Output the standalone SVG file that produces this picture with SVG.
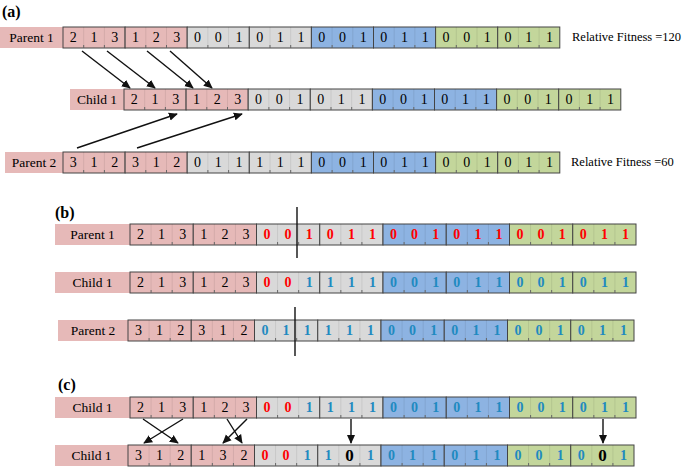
<svg xmlns="http://www.w3.org/2000/svg" xmlns:xlink="http://www.w3.org/1999/xlink" width="685" height="467" viewBox="0 0 685 467" font-family="Liberation Serif, serif">
<style>
.lbl{fill:#e6b9b8}
.p{fill:#e6b9b8;stroke:#444;stroke-width:1}
.g{fill:#d9d9d9;stroke:#444;stroke-width:1}
.u{fill:#8db3e2;stroke:#444;stroke-width:1}
.n{fill:#c3d69b;stroke:#444;stroke-width:1}
.dv{stroke:#000;stroke-opacity:.08;stroke-width:1;fill:none}
.tk{stroke:#666;stroke-width:1;fill:none}
text{font-family:"Liberation Serif","Times New Roman",serif;font-size:14px;fill:#000;text-anchor:middle}
.r{fill:#f00;font-weight:bold}
.b{fill:#1f8ac0;font-weight:bold}
.k{font-weight:bold;font-size:17px}
.lt{font-size:13.5px}
.h{font-weight:bold;font-size:16px;text-anchor:start}
.fit{text-anchor:start;font-size:12.5px}
.ar{stroke:#111;stroke-width:1.4;fill:none;marker-end:url(#ah)}
.cut{stroke:#111;stroke-width:1.4}
</style>
<defs>
<marker id="ah" viewBox="0 0 10 10" refX="9" refY="5" markerWidth="9" markerHeight="9" markerUnits="userSpaceOnUse" orient="auto">
<path d="M0,0.5 L10,5 L0,9.5 z" fill="#111"/>
</marker>
<g id="fa">
<rect class="p" x="0" y="0" width="62.1" height="21"/>
<rect class="p" x="62.1" y="0" width="62.1" height="21"/>
<rect class="g" x="124.2" y="0" width="62.1" height="21"/>
<rect class="g" x="186.3" y="0" width="62.1" height="21"/>
<rect class="u" x="248.4" y="0" width="62.1" height="21"/>
<rect class="u" x="310.5" y="0" width="62.1" height="21"/>
<rect class="n" x="372.6" y="0" width="62.1" height="21"/>
<rect class="n" x="434.7" y="0" width="62.1" height="21"/>
<path class="dv" d="M20.7,0V21M41.4,0V21M82.8,0V21M103.5,0V21M144.9,0V21M165.6,0V21M207,0V21M227.7,0V21M269.1,0V21M289.8,0V21M331.2,0V21M351.9,0V21M393.3,0V21M414,0V21M455.4,0V21M476.1,0V21"/>
<path class="tk" d="M20.7,18V21M41.4,18V21M82.8,18V21M103.5,18V21M144.9,18V21M165.6,18V21M207,18V21M227.7,18V21M269.1,18V21M289.8,18V21M331.2,18V21M351.9,18V21M393.3,18V21M414,18V21M455.4,18V21M476.1,18V21"/>
</g>
<g id="fb">
<rect class="p" x="0" y="0" width="63.25" height="21"/>
<rect class="p" x="63.25" y="0" width="63.25" height="21"/>
<rect class="g" x="126.5" y="0" width="63.25" height="21"/>
<rect class="g" x="189.75" y="0" width="63.25" height="21"/>
<rect class="u" x="253" y="0" width="63.25" height="21"/>
<rect class="u" x="316.25" y="0" width="63.25" height="21"/>
<rect class="n" x="379.5" y="0" width="63.25" height="21"/>
<rect class="n" x="442.75" y="0" width="63.25" height="21"/>
<path class="dv" d="M21.08,0V21M42.17,0V21M84.33,0V21M105.42,0V21M147.58,0V21M168.67,0V21M210.83,0V21M231.92,0V21M274.08,0V21M295.17,0V21M337.33,0V21M358.42,0V21M400.58,0V21M421.67,0V21M463.83,0V21M484.92,0V21"/>
<path class="tk" d="M21.08,18V21M42.17,18V21M84.33,18V21M105.42,18V21M147.58,18V21M168.67,18V21M210.83,18V21M231.92,18V21M274.08,18V21M295.17,18V21M337.33,18V21M358.42,18V21M400.58,18V21M421.67,18V21M463.83,18V21M484.92,18V21"/>
</g>
</defs>

<text class="h" x="2" y="17">(a)</text>
<text class="h" x="55" y="218">(b)</text>
<text class="h" x="58" y="390">(c)</text>

<g id="a-parent1" transform="translate(63,27)">
<rect class="lbl" x="-63" y="0" width="63" height="21"/>
<text class="lt" x="-31.5" y="15">Parent 1</text>
<use xlink:href="#fa"/>
<text x="10.35" y="15">2</text><text x="31.05" y="15">1</text><text x="51.75" y="15">3</text>
<text x="72.45" y="15">1</text><text x="93.15" y="15">2</text><text x="113.85" y="15">3</text>
<text x="134.55" y="15">0</text><text x="155.25" y="15">0</text><text x="175.95" y="15">1</text>
<text x="196.65" y="15">0</text><text x="217.35" y="15">1</text><text x="238.05" y="15">1</text>
<text x="258.75" y="15">0</text><text x="279.45" y="15">0</text><text x="300.15" y="15">1</text>
<text x="320.85" y="15">0</text><text x="341.55" y="15">1</text><text x="362.25" y="15">1</text>
<text x="382.95" y="15">0</text><text x="403.65" y="15">0</text><text x="424.35" y="15">1</text>
<text x="445.05" y="15">0</text><text x="465.75" y="15">1</text><text x="486.45" y="15">1</text>
</g>
<text class="fit" x="572" y="41">Relative Fitness =120</text>

<g id="a-child1" transform="translate(124,89)">
<rect class="lbl" x="-54" y="0" width="54" height="21"/>
<text class="lt" x="-27" y="15">Child 1</text>
<use xlink:href="#fa"/>
<text x="10.35" y="15">2</text><text x="31.05" y="15">1</text><text x="51.75" y="15">3</text>
<text x="72.45" y="15">1</text><text x="93.15" y="15">2</text><text x="113.85" y="15">3</text>
<text x="134.55" y="15">0</text><text x="155.25" y="15">0</text><text x="175.95" y="15">1</text>
<text x="196.65" y="15">0</text><text x="217.35" y="15">1</text><text x="238.05" y="15">1</text>
<text x="258.75" y="15">0</text><text x="279.45" y="15">0</text><text x="300.15" y="15">1</text>
<text x="320.85" y="15">0</text><text x="341.55" y="15">1</text><text x="362.25" y="15">1</text>
<text x="382.95" y="15">0</text><text x="403.65" y="15">0</text><text x="424.35" y="15">1</text>
<text x="445.05" y="15">0</text><text x="465.75" y="15">1</text><text x="486.45" y="15">1</text>
</g>

<g id="a-parent2" transform="translate(63,152)">
<rect class="lbl" x="-58" y="0" width="58" height="21"/>
<text class="lt" x="-29" y="15">Parent 2</text>
<use xlink:href="#fa"/>
<text x="10.35" y="15">3</text><text x="31.05" y="15">1</text><text x="51.75" y="15">2</text>
<text x="72.45" y="15">3</text><text x="93.15" y="15">1</text><text x="113.85" y="15">2</text>
<text x="134.55" y="15">0</text><text x="155.25" y="15">1</text><text x="175.95" y="15">1</text>
<text x="196.65" y="15">1</text><text x="217.35" y="15">1</text><text x="238.05" y="15">1</text>
<text x="258.75" y="15">0</text><text x="279.45" y="15">0</text><text x="300.15" y="15">1</text>
<text x="320.85" y="15">0</text><text x="341.55" y="15">1</text><text x="362.25" y="15">1</text>
<text x="382.95" y="15">0</text><text x="403.65" y="15">0</text><text x="424.35" y="15">1</text>
<text x="445.05" y="15">0</text><text x="465.75" y="15">1</text><text x="486.45" y="15">1</text>
</g>
<text class="fit" x="571" y="166">Relative Fitness =60</text>

<g id="b-parent1" transform="translate(130,224)">
<rect class="lbl" x="-75" y="0" width="75" height="21"/>
<text class="lt" x="-37.5" y="15">Parent 1</text>
<use xlink:href="#fb"/>
<text x="10.5" y="15">2</text><text x="31.6" y="15">1</text><text x="52.7" y="15">3</text>
<text x="73.8" y="15">1</text><text x="94.9" y="15">2</text><text x="116" y="15">3</text>
<text class="r" x="137" y="15">0</text><text class="r" x="158.1" y="15">0</text><text class="r" x="179.2" y="15">1</text>
<text class="r" x="200.3" y="15">0</text><text class="r" x="221.4" y="15">1</text><text class="r" x="242.5" y="15">1</text>
<text class="r" x="263.5" y="15">0</text><text class="r" x="284.6" y="15">0</text><text class="r" x="305.7" y="15">1</text>
<text class="r" x="326.8" y="15">0</text><text class="r" x="347.9" y="15">1</text><text class="r" x="369" y="15">1</text>
<text class="r" x="390" y="15">0</text><text class="r" x="411.1" y="15">0</text><text class="r" x="432.2" y="15">1</text>
<text class="r" x="453.3" y="15">0</text><text class="r" x="474.4" y="15">1</text><text class="r" x="495.5" y="15">1</text>
</g>

<g id="b-child1" transform="translate(130,272)">
<rect class="lbl" x="-75" y="0" width="75" height="21"/>
<text class="lt" x="-37.5" y="15">Child 1</text>
<use xlink:href="#fb"/>
<text x="10.5" y="15">2</text><text x="31.6" y="15">1</text><text x="52.7" y="15">3</text>
<text x="73.8" y="15">1</text><text x="94.9" y="15">2</text><text x="116" y="15">3</text>
<text class="r" x="137" y="15">0</text><text class="r" x="158.1" y="15">0</text><text class="b" x="179.2" y="15">1</text>
<text class="b" x="200.3" y="15">1</text><text class="b" x="221.4" y="15">1</text><text class="b" x="242.5" y="15">1</text>
<text class="b" x="263.5" y="15">0</text><text class="b" x="284.6" y="15">0</text><text class="b" x="305.7" y="15">1</text>
<text class="b" x="326.8" y="15">0</text><text class="b" x="347.9" y="15">1</text><text class="b" x="369" y="15">1</text>
<text class="b" x="390" y="15">0</text><text class="b" x="411.1" y="15">0</text><text class="b" x="432.2" y="15">1</text>
<text class="b" x="453.3" y="15">0</text><text class="b" x="474.4" y="15">1</text><text class="b" x="495.5" y="15">1</text>
</g>

<g id="b-parent2" transform="translate(128,320)">
<rect class="lbl" x="-70" y="0" width="70" height="21"/>
<text class="lt" x="-35" y="15">Parent 2</text>
<use xlink:href="#fb"/>
<text x="10.5" y="15">3</text><text x="31.6" y="15">1</text><text x="52.7" y="15">2</text>
<text x="73.8" y="15">3</text><text x="94.9" y="15">1</text><text x="116" y="15">2</text>
<text class="b" x="137" y="15">0</text><text class="b" x="158.1" y="15">1</text><text class="b" x="179.2" y="15">1</text>
<text class="b" x="200.3" y="15">1</text><text class="b" x="221.4" y="15">1</text><text class="b" x="242.5" y="15">1</text>
<text class="b" x="263.5" y="15">0</text><text class="b" x="284.6" y="15">0</text><text class="b" x="305.7" y="15">1</text>
<text class="b" x="326.8" y="15">0</text><text class="b" x="347.9" y="15">1</text><text class="b" x="369" y="15">1</text>
<text class="b" x="390" y="15">0</text><text class="b" x="411.1" y="15">0</text><text class="b" x="432.2" y="15">1</text>
<text class="b" x="453.3" y="15">0</text><text class="b" x="474.4" y="15">1</text><text class="b" x="495.5" y="15">1</text>
</g>

<g id="c-child1-before" transform="translate(130,397)">
<rect class="lbl" x="-75" y="0" width="75" height="21"/>
<text class="lt" x="-37.5" y="15">Child 1</text>
<use xlink:href="#fb"/>
<text x="10.5" y="15">2</text><text x="31.6" y="15">1</text><text x="52.7" y="15">3</text>
<text x="73.8" y="15">1</text><text x="94.9" y="15">2</text><text x="116" y="15">3</text>
<text class="r" x="137" y="15">0</text><text class="r" x="158.1" y="15">0</text><text class="b" x="179.2" y="15">1</text>
<text class="b" x="200.3" y="15">1</text><text class="b" x="221.4" y="15">1</text><text class="b" x="242.5" y="15">1</text>
<text class="b" x="263.5" y="15">0</text><text class="b" x="284.6" y="15">0</text><text class="b" x="305.7" y="15">1</text>
<text class="b" x="326.8" y="15">0</text><text class="b" x="347.9" y="15">1</text><text class="b" x="369" y="15">1</text>
<text class="b" x="390" y="15">0</text><text class="b" x="411.1" y="15">0</text><text class="b" x="432.2" y="15">1</text>
<text class="b" x="453.3" y="15">0</text><text class="b" x="474.4" y="15">1</text><text class="b" x="495.5" y="15">1</text>
</g>

<g id="c-child1-after" transform="translate(128,445)">
<rect class="lbl" x="-73" y="0" width="73" height="21"/>
<text class="lt" x="-36.5" y="15">Child 1</text>
<use xlink:href="#fb"/>
<text x="10.5" y="15">3</text><text x="31.6" y="15">1</text><text x="52.7" y="15">2</text>
<text x="73.8" y="15">1</text><text x="94.9" y="15">3</text><text x="116" y="15">2</text>
<text class="r" x="137" y="15">0</text><text class="r" x="158.1" y="15">0</text><text class="b" x="179.2" y="15">1</text>
<text class="b" x="200.3" y="15">1</text><text class="k" x="221.4" y="16">0</text><text class="b" x="242.5" y="15">1</text>
<text class="b" x="263.5" y="15">0</text><text class="b" x="284.6" y="15">1</text><text class="b" x="305.7" y="15">1</text>
<text class="b" x="326.8" y="15">0</text><text class="b" x="347.9" y="15">1</text><text class="b" x="369" y="15">1</text>
<text class="b" x="390" y="15">0</text><text class="b" x="411.1" y="15">0</text><text class="b" x="432.2" y="15">1</text>
<text class="b" x="453.3" y="15">0</text><text class="k" x="474.4" y="16">0</text><text class="b" x="495.5" y="15">1</text>
</g>

<g id="connectors">
<line class="ar" x1="82" y1="51" x2="130" y2="88"/>
<line class="ar" x1="107" y1="51" x2="155" y2="88"/>
<line class="ar" x1="147" y1="51" x2="193" y2="88"/>
<line class="ar" x1="170" y1="51" x2="212" y2="88"/>
<line class="ar" x1="77" y1="148" x2="177" y2="114"/>
<line class="ar" x1="137" y1="148" x2="242" y2="114"/>
<line class="cut" x1="297" y1="207" x2="297" y2="258"/>
<line class="cut" x1="295" y1="307" x2="295" y2="356"/>
<line class="ar" x1="143" y1="419" x2="178" y2="443"/>
<line class="ar" x1="183" y1="419" x2="144" y2="443"/>
<line class="ar" x1="227" y1="419" x2="242" y2="443"/>
<line class="ar" x1="247" y1="419" x2="223" y2="443"/>
<line class="ar" x1="351" y1="419" x2="351" y2="443"/>
<line class="ar" x1="603" y1="419" x2="603" y2="443"/>
</g>
</svg>
